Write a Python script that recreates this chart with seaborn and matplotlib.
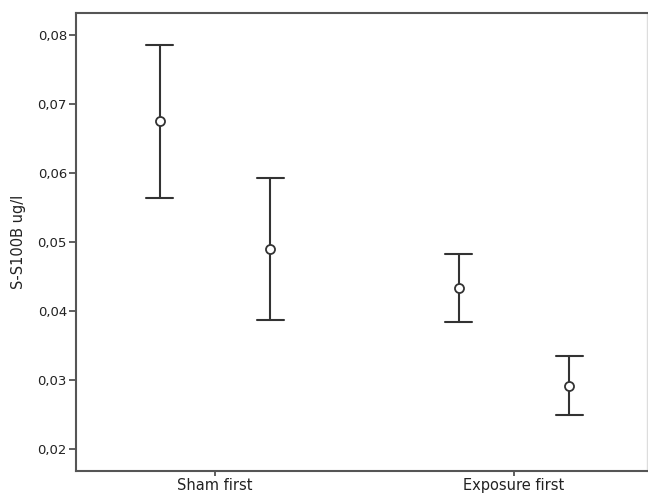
import matplotlib
matplotlib.use("Agg")
import matplotlib.pyplot as plt
import seaborn as sns
import pandas as pd

# ---- data ----
groups = ["Sham first", "Exposure first"]
periods = ["First", "Second"]
means = [0.0675, 0.0489, 0.0433, 0.0291]
lower = [0.0564, 0.0386, 0.0384, 0.0249]
upper = [0.0786, 0.0592, 0.0482, 0.0334]
ytick_values = [0.02, 0.03, 0.04, 0.05, 0.06, 0.07, 0.08]
ytick_labels = ["0,02", "0,03", "0,04", "0,05", "0,06", "0,07", "0,08"]
ylabel = "S-S100B ug/l"

rows = []
i = 0
for g in groups:
    for p in periods:
        for v in (lower[i], means[i], upper[i]):
            rows.append({"group": g, "period": p, "value": v})
        i += 1
df = pd.DataFrame(rows)

sns.set_style("ticks")
plt.rcParams["font.family"] = ["DejaVu Sans"]

fig = plt.figure(figsize=(6.48, 4.96), dpi=100)
ax = fig.add_axes([76 / 648, 1 - 471 / 496, (647 - 76) / 648, (471 - 13) / 496])

c = "#333333"
sns.pointplot(data=df, x="group", y="value", hue="period", order=groups,
              hue_order=periods, estimator="median", errorbar=("pi", 100),
              dodge=0.37, linestyle="none", markers="o", capsize=0.09,
              palette=[c, c], legend=False, ax=ax,
              err_kws={"linewidth": 1.5}, markersize=6.5)

for ln in ax.lines:
    if ln.get_marker() == "o":
        ln.set_markerfacecolor("white")
        ln.set_markeredgecolor(c)
        ln.set_markeredgewidth(1.3)
        ln.set_zorder(5)

ax.set_xlim(-0.465, 1.445)
ax.set_ylim(0.01677, 0.0832)
ax.set_yticks(ytick_values)
ax.set_yticklabels(ytick_labels)
ax.set_xlabel("")
ax.set_ylabel(ylabel, fontsize=10.5, color="#222222")
ax.yaxis.set_label_coords((26 - 76) / 571, 0.5)
ax.tick_params(axis="y", labelsize=9.5, length=5, width=1.2, pad=1.5,
               colors="#444444", labelcolor="#222222")
ax.tick_params(axis="x", labelsize=10.5, length=3.8, width=1.2, pad=1.5,
               colors="#444444", labelcolor="#222222")
for side in ["left", "bottom", "top"]:
    ax.spines[side].set_color("#555555")
    ax.spines[side].set_linewidth(1.5)
ax.spines["right"].set_color("#dddddd")
ax.spines["right"].set_linewidth(1.0)

fig.savefig("out.png", dpi=100)
